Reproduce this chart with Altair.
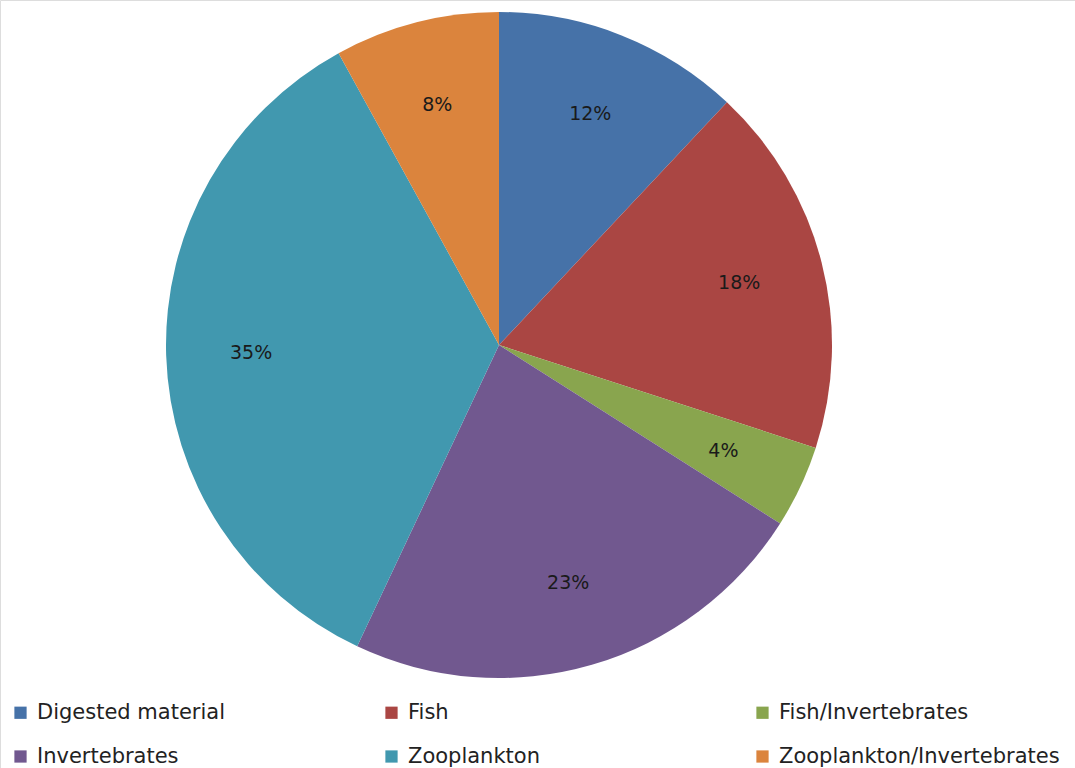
import altair as alt
import pandas as pd

# Diet composition shares (percent)
categories = [
    "Digested material",
    "Fish",
    "Fish/Invertebrates",
    "Invertebrates",
    "Zooplankton",
    "Zooplankton/Invertebrates",
]
shares = [12, 18, 4, 23, 35, 8]
colors = ["#4672A8", "#AA4643", "#89A54E", "#71588F", "#4198AF", "#DB843D"]

df = pd.DataFrame({
    "category": categories,
    "share": shares,
    "order": list(range(len(categories))),
})
df["label"] = df["share"].astype(str) + "%"

cx, cy, r = 499, 345, 333

base = alt.Chart(df).encode(
    theta=alt.Theta("share:Q", stack=True),
    order=alt.Order("order:Q"),
    x=alt.value(cx),
    y=alt.value(cy),
)

pie = base.mark_arc(outerRadius=r, stroke=None).encode(
    color=alt.Color(
        "category:N",
        scale=alt.Scale(domain=categories, range=colors),
        sort=categories,
        legend=alt.Legend(
            title=None,
            orient="none",
            direction="horizontal",
            legendX=10,
            legendY=702,
            columns=3,
            gridAlign="all",
            symbolType="square",
            symbolSize=150,
            symbolStrokeWidth=0,
            symbolOpacity=1,
            labelFont="DejaVu Sans",
            labelFontSize=21,
            labelColor="#222222",
            labelOffset=6,
            labelLimit=400,
            columnPadding=63,
            rowPadding=22,
        ),
    )
)

labels = base.mark_text(
    radius=248, font="DejaVu Sans", fontSize=19, color="#1a1a1a"
).encode(text="label:N")

chart = (
    (pie + labels)
    .properties(width=1075, height=768, autosize="none", padding=0)
    .configure_view(stroke=None)
    .configure(background="white")
)

chart.save("out.html", embed_options={"renderer": "svg", "actions": False})
